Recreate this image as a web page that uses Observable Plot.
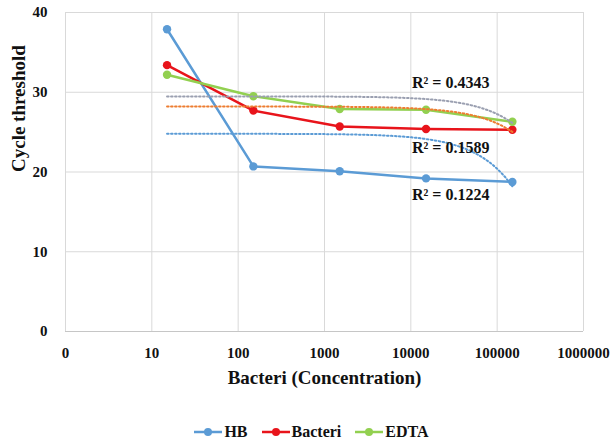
<!DOCTYPE html>
<html>
<head>
<meta charset="utf-8">
<script src="https://cdn.jsdelivr.net/npm/d3@7"></script>
<script src="https://cdn.jsdelivr.net/npm/@observablehq/plot@0.6"></script>
<style>
  html, body { margin: 0; padding: 0; background: #fff; }
  #chart { width: 611px; }
  #chart svg, #chart svg text { font-family: "Liberation Serif", "DejaVu Serif", "Times New Roman", serif !important; }
  .legend { display: flex; justify-content: center; align-items: center; height: 40px; padding-left: 12px;
    font-family: "Liberation Serif", "DejaVu Serif", "Times New Roman", serif; font-weight: bold; font-size: 16px; color: #111; }
  .legend .item { display: flex; align-items: center; margin: 0 7px; }
  .legend svg { margin-right: 2px; }
</style>
</head>
<body>
<div id="chart"></div>
<script>
// Data
const concentrations = [15, 150, 1500, 15000, 150000];
const hb = [37.9, 20.7, 20.1, 19.2, 18.75];
const bacteri = [33.4, 27.7, 25.7, 25.4, 25.3];
const edta = [32.2, 29.5, 27.9, 27.8, 26.3];

const seriesNames = ["HB", "Bacteri", "EDTA"];
const seriesColors = ["#5B9BD5", "#E8141B", "#92D050"];
const trendColors = ["#5B9BD5", "#ED7D31", "#9A9FB0"];

const xTicks = [1, 10, 100, 1000, 10000, 100000, 1000000];
const xTickLabels = ["0", "10", "100", "1000", "10000", "100000", "1000000"];
const yTicks = [0, 10, 20, 30, 40];

const r2Labels = ["R² = 0.1224", "R² = 0.1589", "R² = 0.4343"];
const r2X = [29000, 29000, 29000];
const r2Y = [17.1, 23.0, 31.2];

// Build tidy table
const seriesValues = [hb, bacteri, edta];
const rows = [];
seriesNames.forEach((name, s) => {
  concentrations.forEach((c, i) => rows.push({series: name, x: c, y: seriesValues[s][i]}));
});

// Linear (Excel-style) trendline on raw x, drawn on the log axis
const trendRows = [];
seriesNames.forEach((name, s) => {
  const ys = seriesValues[s];
  const mx = d3.mean(concentrations), my = d3.mean(ys);
  let sxy = 0, sxx = 0;
  concentrations.forEach((x, i) => { sxy += (x - mx) * (ys[i] - my); sxx += (x - mx) ** 2; });
  const a = sxy / sxx, b = my - a * mx;
  const lo = Math.log10(d3.min(concentrations)), hi = Math.log10(d3.max(concentrations));
  d3.range(0, 121).forEach(k => {
    const x = Math.pow(10, lo + (hi - lo) * k / 120);
    trendRows.push({series: name, x, y: b + a * x});
  });
});

const labelRows = r2Labels.map((t, i) => ({text: t, x: r2X[i], y: r2Y[i]}));

const plot = Plot.plot({
  width: 611,
  height: 412,
  marginLeft: 65,
  marginRight: 28,
  marginTop: 12,
  marginBottom: 81,
  style: {
    fontFamily: "'Liberation Serif', 'DejaVu Serif', serif",
    fontWeight: "bold",
    fontSize: "15px",
    color: "#111",
    background: "#fff"
  },
  x: {type: "log", domain: [1, 1e6]},
  y: {domain: [0, 40]},
  color: {domain: seriesNames, range: seriesColors},
  marks: [
    Plot.gridX(xTicks, {stroke: "#d9d9d9", strokeOpacity: 1}),
    Plot.gridY(yTicks, {stroke: "#d9d9d9", strokeOpacity: 1}),
    Plot.ruleY([0], {stroke: "#c6c6c6", strokeWidth: 1.2}),
    Plot.axisX(xTicks, {tickFormat: d => xTickLabels[xTicks.indexOf(d)], tickSize: 0, tickPadding: 16, label: null, fontSize: 15}),
    Plot.axisY(yTicks, {tickSize: 0, tickPadding: 18, label: null, fontSize: 15}),
    Plot.text(["Bacteri (Concentration)"], {frameAnchor: "bottom", dy: 52, fontSize: 19, fontWeight: "bold", fill: "#111"}),
    Plot.text(["Cycle threshold"], {frameAnchor: "left", dx: -47, rotate: -90, fontSize: 19, fontWeight: "bold", fill: "#111"}),
    Plot.line(rows, {x: "x", y: "y", z: "series", stroke: "series", strokeWidth: 2.5}),
    Plot.dot(rows, {x: "x", y: "y", fill: "series", r: 4.2}),
    Plot.line(trendRows, {x: "x", y: "y", z: "series", stroke: d => trendColors[seriesNames.indexOf(d.series)], strokeWidth: 2, strokeDasharray: "1.6,2.4", curve: "linear"}),
    Plot.text(labelRows, {x: "x", y: "y", text: "text", fontSize: 16, fontWeight: "bold", fill: "#111"})
  ]
});
document.getElementById("chart").appendChild(plot);

// Legend
const legend = document.createElement("div");
legend.className = "legend";
seriesNames.forEach((name, i) => {
  const item = document.createElement("div");
  item.className = "item";
  item.innerHTML = `<svg width="28" height="12"><line x1="0" y1="6" x2="28" y2="6" stroke="${seriesColors[i]}" stroke-width="2.5"/><circle cx="14" cy="6" r="4" fill="${seriesColors[i]}"/></svg><span>${name}</span>`;
  legend.appendChild(item);
});
document.body.appendChild(legend);
</script>
</body>
</html>
